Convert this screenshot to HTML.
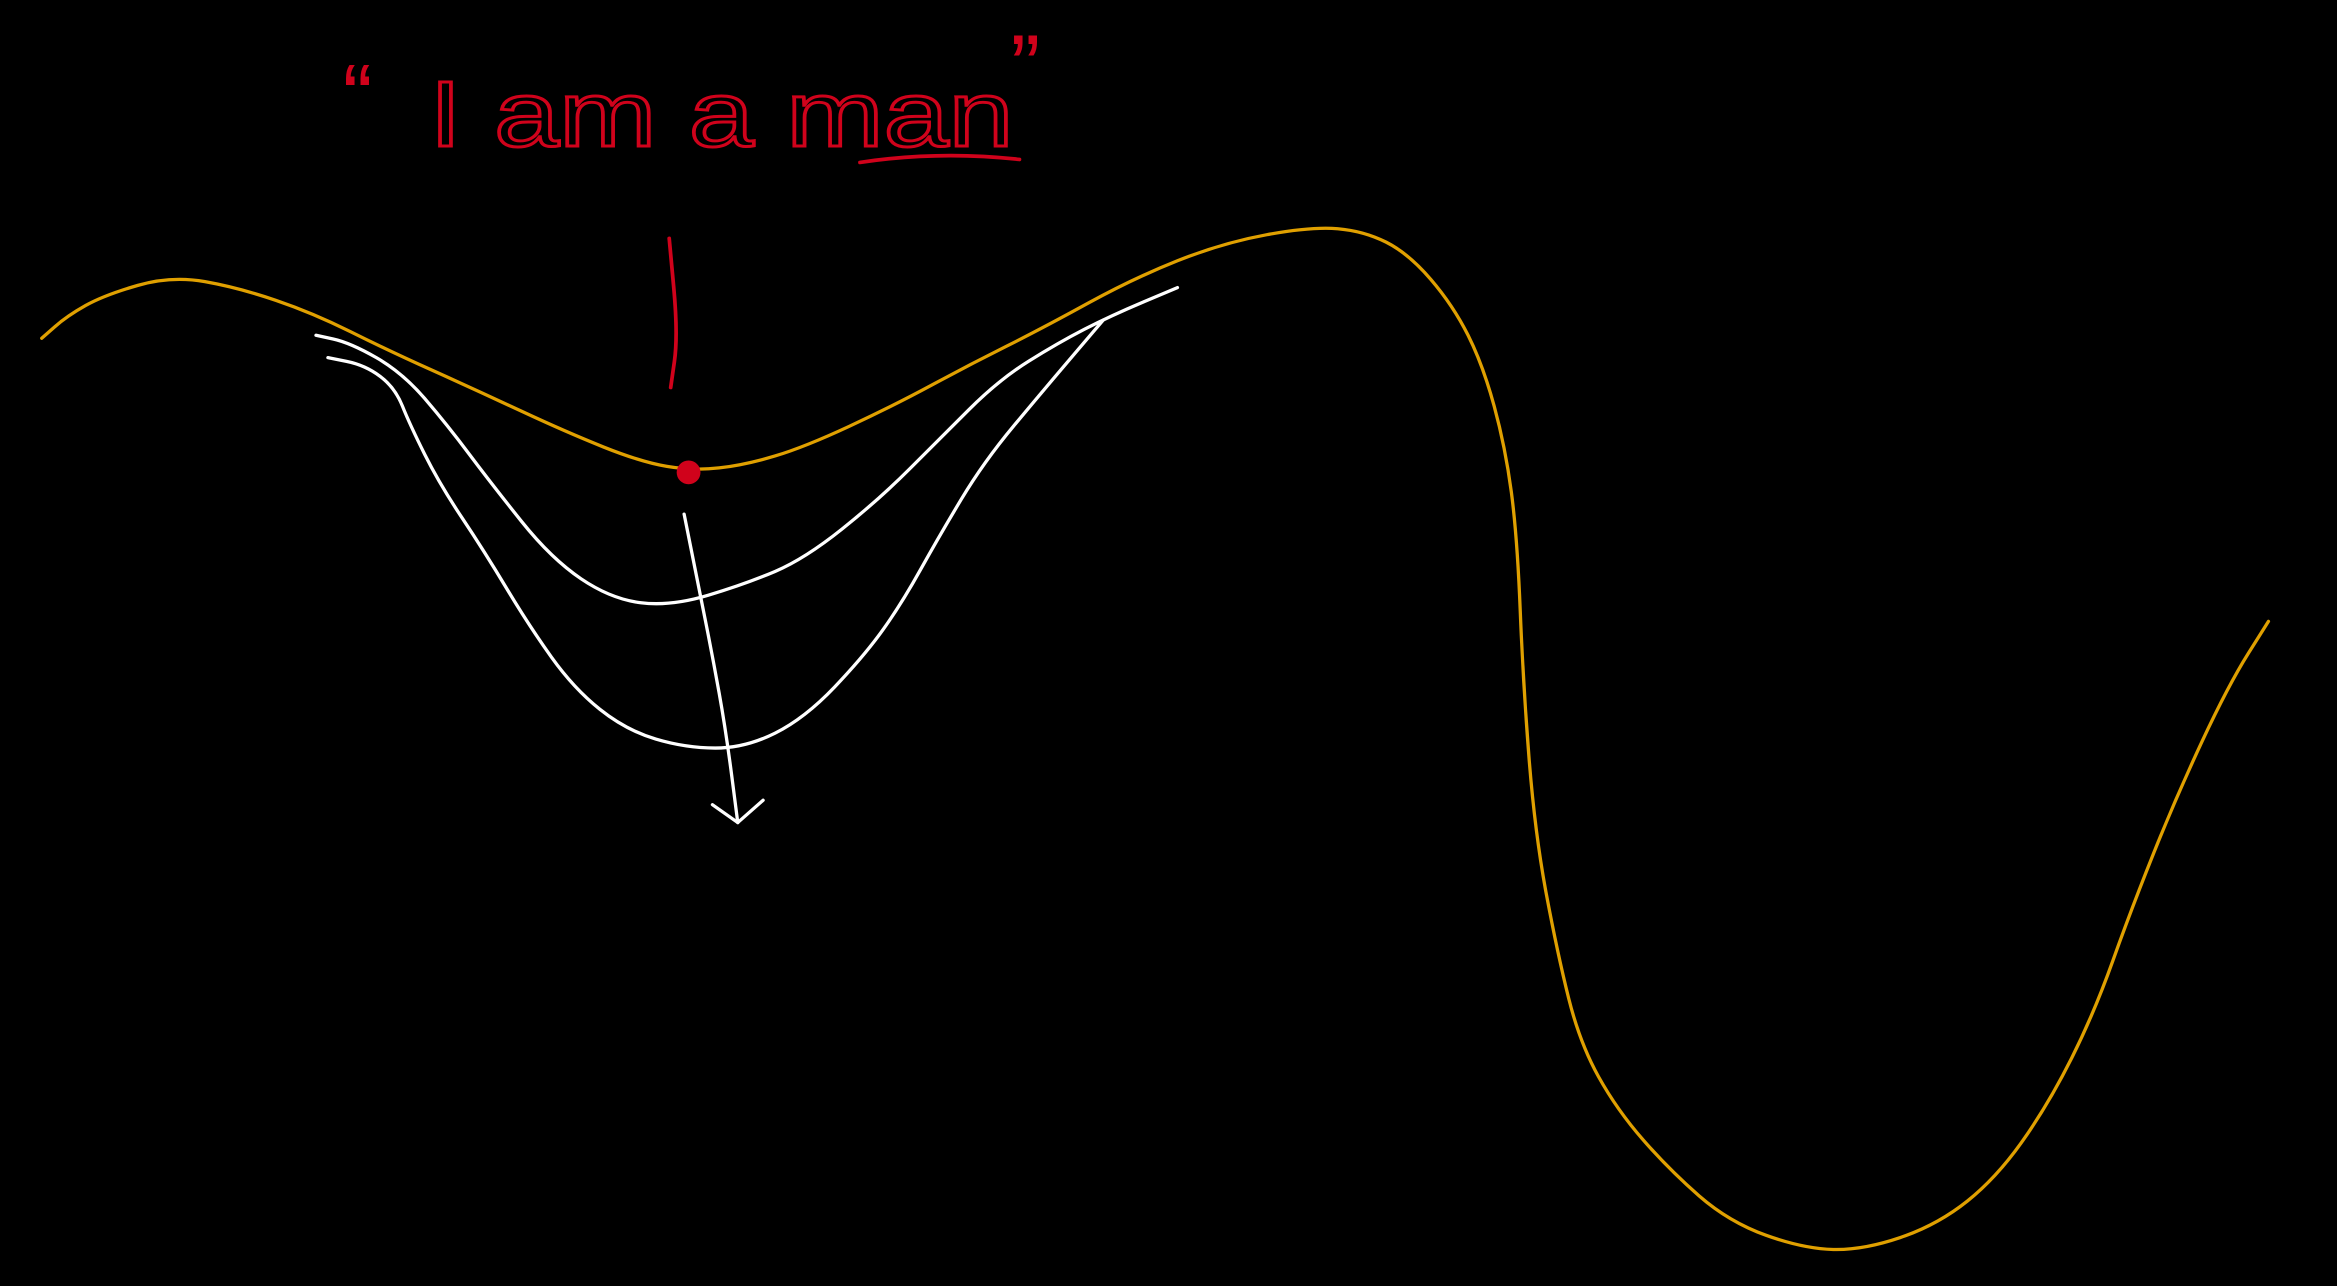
<!DOCTYPE html>
<html><head><meta charset="utf-8"><style>
html,body{margin:0;padding:0;background:#000;width:2337px;height:1286px;overflow:hidden}
svg{display:block}
</style></head><body>
<svg width="2337" height="1286" viewBox="0 0 1568 863" preserveAspectRatio="none" xmlns="http://www.w3.org/2000/svg">
<rect width="1568" height="863" fill="#000"/>
<g id="marks" fill="none" stroke-linecap="round" stroke-linejoin="round"></g>
<text x="230" y="85" fill="#d0021b" font-family="Liberation Sans, sans-serif" font-size="60">“</text>
<text x="288" y="98" fill="none" stroke="#d0021b" stroke-width="2" font-family="Liberation Sans, sans-serif" font-size="62" textLength="392" lengthAdjust="spacingAndGlyphs">I  am  a  man</text>
<text x="678" y="65" fill="#d0021b" font-family="Liberation Sans, sans-serif" font-size="60">”</text>
<path d="M577,109 Q630,101 684,107" stroke="#d0021b" stroke-width="2.5" fill="none" stroke-linecap="round"/>
</svg>
<script>
const yellowCurve=[[28,227],[45,212],[70,198],[115,185],[160,193],[210,210],[260,235],[320,262],[380,290],[430,310],[465,316],[500,312],[540,300],[600,272],[650,245],[700,220],[760,187],[820,163],[880,152],[915,155],[945,170],[975,205],[995,245],[1010,300],[1018,360],[1022,460],[1030,560],[1045,640],[1060,700],[1085,745],[1120,785],[1160,820],[1210,838],[1250,839],[1300,822],[1340,790],[1375,740],[1405,680],[1430,610],[1460,535],[1495,460],[1522,417]];
const innerCurve=[[212,225],[235,230],[270,250],[300,285],[330,325],[370,375],[410,402],[450,407],[500,392],[540,375],[590,335],[630,295],[670,255],[710,230],[745,212],[790,193]];
const outerCurve=[[220,240],[245,245],[265,260],[275,285],[295,325],[325,370],[355,420],[385,462],[420,490],[460,502],[500,502],[540,482],[580,440],[605,405],[630,360],[660,310],[700,262],[740,215]];
const arrowLine=[[459,345],[468,390],[478,440],[487,490],[495,552]];
const arrowHead=[[478,540],[495,552],[512,537]];
const redLine=[[449,160],[455,225],[450,260]];
const g=document.getElementById('marks');
const NS='http://www.w3.org/2000/svg';
function smooth(p){let d='M'+p[0][0]+','+p[0][1];for(let i=1;i<p.length;i++){const a=p[i-1],b=p[i];const mx=(a[0]+b[0])/2,my=(a[1]+b[1])/2;d+=' Q'+a[0]+','+a[1]+' '+mx+','+my;}const l=p[p.length-1];return d+' L'+l[0]+','+l[1];}
function draw(p,color,w,name,sm){const el=document.createElementNS(NS,'path');el.setAttribute('d',sm?smooth(p):'M'+p.map(q=>q.join(',')).join(' L'));el.setAttribute('stroke',color);el.setAttribute('stroke-width',w);


g.appendChild(el);}
draw(yellowCurve,'#e0a000',2.2,'yellow-curve',true);
draw(innerCurve,'#ffffff',2.2,'inner-white-curve',true);
draw(outerCurve,'#ffffff',2.2,'outer-white-curve',true);
draw(arrowLine,'#ffffff',2.2,'down-arrow-line',true);
draw(arrowHead,'#ffffff',2.2,'down-arrow-head',false);
draw(redLine,'#d0021b',2.5,'red-pointer-line',true);
const dot=document.createElementNS(NS,'circle');
dot.setAttribute('cx',462);dot.setAttribute('cy',317);dot.setAttribute('r',8);dot.setAttribute('fill','#d0021b');


g.appendChild(dot);
</script>
</body></html>
